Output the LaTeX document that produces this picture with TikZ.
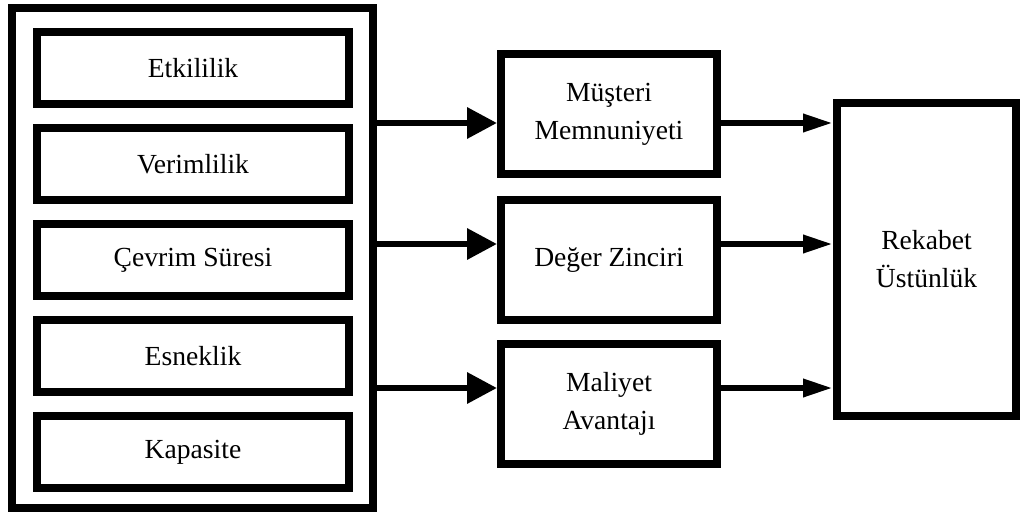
\documentclass[tikz,border=0pt]{standalone}
\usepackage{fontspec}
\setmainfont{Liberation Serif}
\usetikzlibrary{arrows.meta}

\tikzset{
  cerceve/.style={draw, line width=4.3pt, minimum width=180.5pt, minimum height=250pt},
  olcut/.style={draw, line width=4pt, minimum width=156pt, minimum height=36pt, font=\yazi},
  sonuc/.style={draw, line width=4pt, minimum width=108pt, minimum height=60pt, align=center, font=\yazi},
  rekabet/.style={draw, line width=4pt, minimum width=89.5pt, minimum height=156.5pt, align=center, font=\yazi},
  okgiris/.style={line width=3.2pt, -{Triangle[length=15pt,width=15pt]}},
  okcikis/.style={line width=3.2pt, -{Triangle[length=15pt,width=8.5pt]}}
}
\newcommand{\yazi}{\fontsize{13.8}{19}\selectfont}

\begin{document}
\begin{tikzpicture}[x=0.5pt, y=-0.5pt]
        \useasboundingbox (0, 0) rectangle (1020, 513);

        %Sol kutu
        \node[cerceve] (cerceve) at (192.5, 258) {};
        \node[olcut] (etkililik) at (193, 68) {Etkililik};
        \node[olcut] (verimlilik) at (193, 164) {Verimlilik};
        \node[olcut] (cevrim) at (193, 260) {Çevrim Süresi};
        \node[olcut] (esneklik) at (193, 356) {Esneklik};
        \node[olcut] (kapasite) at (193, 452) {Kapasite};

        %Orta kutular
        \node[sonuc] (musteri) at (609, 114) {Müşteri\\Memnuniyeti};
        \node[sonuc] (deger) at (609, 260) {Değer Zinciri};
        \node[sonuc] (maliyet) at (609, 404) {Maliyet\\Avantajı};

        %Sag kutu
        \node[rekabet] (rekabet) at (926.5, 259.5) {Rekabet\\Üstünlük};

        %Oklar
        \coordinate (y1) at (0, 123);
        \coordinate (y2) at (0, 244);
        \coordinate (y3) at (0, 388);
        \draw[okgiris] (cerceve.east |- y1) -- (musteri.west |- y1);
        \draw[okgiris] (cerceve.east |- y2) -- (deger.west |- y2);
        \draw[okgiris] (cerceve.east |- y3) -- (maliyet.west |- y3);
        \draw[okcikis] (musteri.east |- y1) -- (rekabet.west |- y1);
        \draw[okcikis] (deger.east |- y2) -- (rekabet.west |- y2);
        \draw[okcikis] (maliyet.east |- y3) -- (rekabet.west |- y3);

    \end{tikzpicture}
\end{document}
